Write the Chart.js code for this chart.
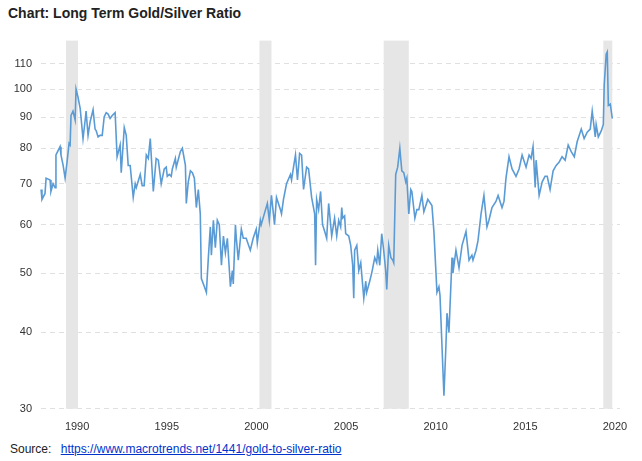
<!DOCTYPE html>
<html><head><meta charset="utf-8">
<script src="https://cdn.jsdelivr.net/npm/chart.js@4"></script>
<style>
body{margin:0;background:#fff;font-family:"Liberation Sans",Arial,sans-serif;}
#t{position:absolute;left:8px;top:5px;font-size:14px;font-weight:bold;color:#222;}
#s{position:absolute;left:10px;top:442px;font-size:12px;color:#222;}
#s a{color:#0033cc;text-decoration:underline;margin-left:6px;}
#w{position:absolute;left:0;top:26px;width:642px;height:412px;}
</style></head><body>
<div id="t">Chart: Long Term Gold/Silver Ratio</div>
<div id="w"><canvas id="c"></canvas></div>
<div id="s">Source: <a href="#">https://www.macrotrends.net/1441/gold-to-silver-ratio</a></div>
<script>
const years=[1987.99,1988.04,1988.21,1988.27,1988.49,1988.54,1988.66,1988.77,1988.82,1989.05,1989.10,1989.22,1989.33,1989.44,1989.55,1989.61,1989.66,1989.77,1989.89,1989.94,1990.05,1990.17,1990.33,1990.45,1990.50,1990.61,1990.73,1990.89,1991.00,1991.06,1991.17,1991.28,1991.40,1991.51,1991.62,1991.73,1991.84,1991.96,1992.12,1992.23,1992.40,1992.46,1992.63,1992.74,1992.85,1992.96,1993.13,1993.24,1993.30,1993.52,1993.63,1993.74,1993.86,1993.97,1994.08,1994.25,1994.41,1994.53,1994.69,1994.86,1994.97,1995.03,1995.14,1995.25,1995.31,1995.48,1995.53,1995.76,1995.87,1996.04,1996.09,1996.20,1996.32,1996.43,1996.54,1996.65,1996.76,1996.87,1996.93,1997.10,1997.21,1997.32,1997.43,1997.49,1997.60,1997.71,1997.82,1997.93,1998.05,1998.16,1998.27,1998.38,1998.55,1998.66,1998.71,1998.83,1998.88,1998.99,1999.16,1999.27,1999.43,1999.66,1999.82,1999.99,2000.05,2000.22,2000.27,2000.44,2000.61,2000.72,2000.84,2001.01,2001.12,2001.34,2001.40,2001.51,2001.68,2001.90,2001.96,2002.07,2002.18,2002.29,2002.41,2002.52,2002.63,2002.80,2002.91,2003.08,2003.25,2003.30,2003.36,2003.47,2003.58,2003.69,2003.81,2003.92,2004.03,2004.20,2004.36,2004.48,2004.59,2004.70,2004.76,2004.81,2004.92,2004.98,2005.15,2005.26,2005.37,2005.43,2005.48,2005.60,2005.71,2005.82,2005.99,2006.10,2006.15,2006.32,2006.43,2006.49,2006.60,2006.71,2006.77,2006.88,2006.99,2007.10,2007.21,2007.27,2007.38,2007.50,2007.61,2007.66,2007.77,2007.88,2008.00,2008.11,2008.22,2008.33,2008.39,2008.50,2008.61,2008.67,2008.84,2008.95,2009.06,2009.23,2009.34,2009.56,2009.79,2009.90,2010.07,2010.18,2010.24,2010.46,2010.57,2010.63,2010.74,2010.91,2010.96,2011.13,2011.30,2011.47,2011.69,2011.86,2012.02,2012.08,2012.25,2012.36,2012.53,2012.69,2012.86,2012.97,2013.14,2013.36,2013.48,2013.70,2013.81,2013.92,2014.09,2014.26,2014.48,2014.65,2014.82,2015.04,2015.21,2015.32,2015.43,2015.55,2015.60,2015.77,2015.94,2016.10,2016.22,2016.38,2016.55,2016.72,2016.89,2017.05,2017.22,2017.39,2017.56,2017.73,2017.89,2018.12,2018.28,2018.45,2018.62,2018.73,2018.90,2018.95,2019.07,2019.24,2019.35,2019.40,2019.51,2019.57,2019.63,2019.74,2019.85];
const ratio=[68.5,66,67.5,71.5,71,68,70,69,78,80.5,78,75,71.5,76,81.5,81,90.5,92,89,100,97,93,83,89,92,84,88.5,92.5,86,85.5,83.5,84,84,90,91.5,91,89.5,90.5,91.5,77.5,81,73,86.5,84,75,75,66.5,70,69,72.5,69.5,69.5,78,77,83,68,77,76.5,70,74,74.5,72,72.5,72,74,77,74.5,79,80,75,65,70.5,73.5,73,71.5,64,68.5,62.5,49,47.5,46.5,53,59.5,53.5,61,55,61,60,51.5,57.5,54,57,47.5,50.5,48,60,57,52.5,59,57,57,54.5,57,59,56,61,60,62.5,65,61,67,60,66.5,63.5,62.5,66,70,72.5,71,74.5,78,71,78.5,78,68.5,74.5,74,66.5,62.5,51.5,66,63.5,68,60,58.5,57,65,57.5,61.5,57.5,61,59.5,64,61.5,62,58,57.5,55.5,51.5,45.5,54.5,55.5,50.5,52,45.5,48.5,46.5,48.5,50,51,53,52,54.5,51.5,58,54.5,50.5,47,55.5,53,52.5,52,72.5,74.5,80,73.5,73,70.5,71.5,62.5,68.5,68,61.5,63.5,63.5,67,63,66,64.5,58.5,46.5,47.5,46,31.5,38,43,40,53,50,54.5,51,55.5,58.5,52.5,53.5,52.5,54.5,56.5,62.5,67,59.5,61,64,65.5,67,64,65.5,71.5,77.5,74,72,74,78,74.5,78,77,80.5,69,76.5,67,70.5,72,72,68.5,73.5,75,76,77.5,76.5,81,79,77.5,82,86,83,85,86,92,83.5,87.5,83.5,85.5,87.5,101.5,114,115,94,94.5,89.5];
const bandStart=[1989.38,2000.17,2007.10,2019.35];
const bandEnd=[1990.05,2000.84,2008.50,2019.85];
const yTicks=[30,40,50,60,70,80,90,100,110];
const xTicks=[1990,1995,2000,2005,2010,2015,2020];

const bands={id:'bands',beforeDatasetsDraw(ch){const {ctx,chartArea:a,scales:{x}}=ch;ctx.save();ctx.fillStyle='#e6e6e6';
for(let i=0;i<bandStart.length;i++){const l=x.getPixelForValue(bandStart[i]),r=x.getPixelForValue(bandEnd[i]);ctx.fillRect(l,a.top,r-l,a.bottom-a.top);}ctx.restore();}};

new Chart(document.getElementById('c'),{type:'line',
data:{datasets:[{data:years.map((y,i)=>({x:y,y:ratio[i]})),borderColor:'#5b9bd5',borderWidth:1.6,pointRadius:0,tension:0}]},
options:{responsive:true,maintainAspectRatio:false,animation:false,
layout:{padding:{top:12,right:22,left:0,bottom:0}},
plugins:{legend:{display:false},tooltip:{enabled:false}},
scales:{
x:{type:'linear',min:1987.93,max:2020.28,afterBuildTicks(s){s.ticks=xTicks.map(v=>({value:v}));},
 ticks:{color:'#333',font:{family:'Liberation Sans',size:11},maxRotation:0,padding:4,callback:v=>String(v)},
 grid:{display:false},border:{display:false}},
y:{type:'logarithmic',min:30,max:120,afterBuildTicks(s){s.ticks=yTicks.map(v=>({value:v}));},
 afterFit(s){s.width=40;},
 ticks:{color:'#333',font:{family:'Liberation Sans',size:11},padding:8,callback:v=>String(v)},
 grid:{color:'#e0e0e0',lineWidth:1,drawTicks:false},border:{display:true,color:'rgba(0,0,0,0)',dash:[5,4]}}
}},plugins:[bands]});
</script></body></html>
